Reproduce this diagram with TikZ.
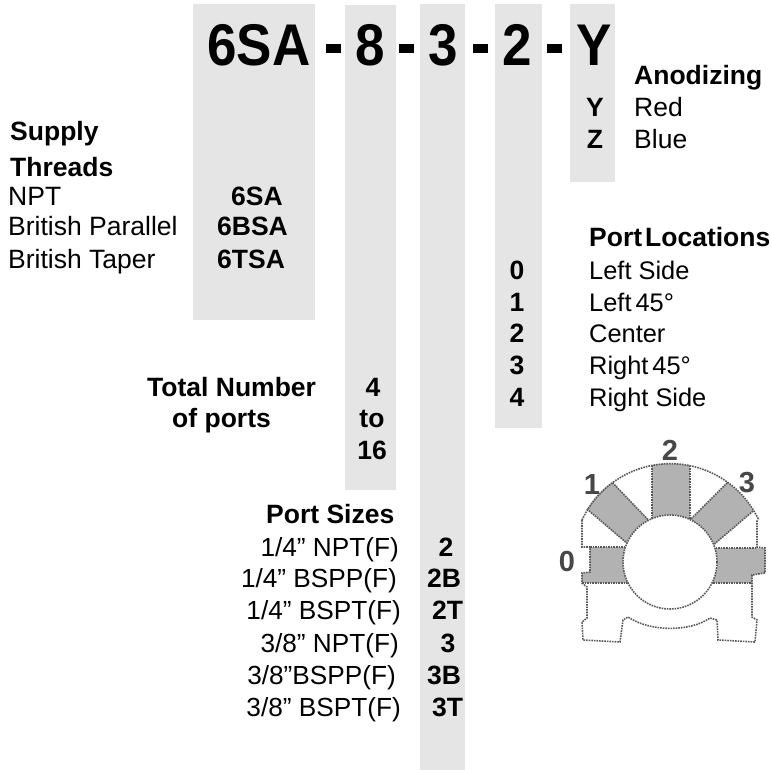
\documentclass[tikz,border=0pt]{standalone}
\usepackage{graphicx}
\usepackage{fontspec}
\setmainfont{Liberation Sans}
\usetikzlibrary{positioning}
\definecolor{barGray}{gray}{0.9}
\newcommand{\tallCode}[1]{\scalebox{1}[1.11]{#1}}
\tikzset{
    codeBar/.style={fill=barGray, draw=none},
    plainText/.style={anchor=base west, inner sep=0pt, font=\fontsize{26.5}{26.5}\selectfont},
    locText/.style={plainText, font=\fontsize{25.4}{25.4}\selectfont},
    boldText/.style={plainText, font=\fontsize{26.5}{26.5}\selectfont\bfseries},
    boldMid/.style={boldText, anchor=base},
    sizeText/.style={plainText, anchor=base east, font=\fontsize{26.2}{26.2}\selectfont},
    bigText/.style={anchor=base, inner sep=0pt, font=\fontsize{53}{53}\selectfont\bfseries},
    sketchText/.style={anchor=center, inner sep=0pt, text=black!72, font=\fontsize{29}{29}\selectfont\bfseries},
    sketchLine/.style={black!65, line width=1.6pt, densely dotted},
    blockFill/.style={fill=black!30},
}
\begin{document}
\begin{tikzpicture}[x=1pt,y=-1pt]
			\useasboundingbox (0,0) rectangle (771,770);
			% gray columns
			\fill[codeBar] (193,4) rectangle (315,320);
			\fill[codeBar] (345,5) rectangle (396,490);
			\fill[codeBar] (420,4) rectangle (465,770);
			\fill[codeBar] (495,4) rectangle (542,428);
			\fill[codeBar] (570,4) rectangle (615,182);
			% model code
			\node[bigText] (codeA) at (259,66) {\tallCode{6SA}};
			\node[bigText] (codeB) at (370,66) {\tallCode{8}};
			\node[bigText] (codeC) at (443,66) {\tallCode{3}};
			\node[bigText] (codeD) at (517.5,66) {\tallCode{2}};
			\node[bigText] (codeE) at (594,66) {\tallCode{Y}};
			\fill (326,44) rectangle (341,53);
			\fill (399,44) rectangle (414,53);
			\fill (473,44) rectangle (488,53);
			\fill (547,44) rectangle (562,53);
			% anodizing
			\node[boldText] (anoTitle) at (634,85) {Anodizing};
			\node[boldMid] (anoY) at (595,117) {Y};
			\node[plainText] (anoRed) at (634,117) {Red};
			\node[boldMid] (anoZ) at (595,149) {Z};
			\node[plainText] (anoBlue) at (634,149) {Blue};
			% supply threads
			\node[boldText] (supplyTitle) at (10,141) {Supply};
			\node[boldText] (threadsTitle) at (10,177) {Threads};
			\node[plainText] (npt) at (8,206) {NPT};
			\node[plainText] (parallel) at (8,236) {British Parallel};
			\node[plainText] (taper) at (8,268) {British Taper};
			\node[boldText] (codeNpt) at (231,206) {6SA};
			\node[boldText] (codeParallel) at (217,236) {6BSA};
			\node[boldText] (codeTaper) at (217,268) {6TSA};
			% number of ports
			\node[boldText] (totalTitle) at (147,396) {Total Number};
			\node[boldText] (ofPorts) at (172,427) {of ports};
			\node[boldMid] (numFour) at (373,396) {4};
			\node[boldMid] (numTo) at (372,427) {to};
			\node[boldMid] (numSixteen) at (372,459) {16};
			% port sizes
			\node[boldText] (sizeTitle) at (266,523) {Port Sizes};
			\node[sizeText] (sizeA) at (399,556) {1/4” NPT(F)};
			\node[sizeText] (sizeB) at (397,587) {1/4” BSPP(F)};
			\node[sizeText] (sizeC) at (401,619) {1/4” BSPT(F)};
			\node[sizeText] (sizeD) at (399,652) {3/8” NPT(F)};
			\node[sizeText] (sizeE) at (396,684) {3/8”BSPP(F)};
			\node[sizeText] (sizeF) at (401,716) {3/8” BSPT(F)};
			\node[boldMid] (sizeCodeA) at (446,556) {2};
			\node[boldMid] (sizeCodeB) at (444,587) {2B};
			\node[boldMid] (sizeCodeC) at (447.5,619) {2T};
			\node[boldMid] (sizeCodeD) at (448,652) {3};
			\node[boldMid] (sizeCodeE) at (444,684) {3B};
			\node[boldMid] (sizeCodeF) at (447.5,716) {3T};
			% port locations
			\node[boldText] (locTitle) at (589,247) {Port\hspace{3pt}Locations};
			\node[boldMid] (locZero) at (517,279) {0};
			\node[locText] (locLeft) at (589,279) {Left Side};
			\node[boldMid] (locOne) at (517,311) {1};
			\node[locText] (locLeftAngle) at (589,311) {Left\hspace{4pt}45°};
			\node[boldMid] (locTwo) at (517,342) {2};
			\node[locText] (locCenter) at (589,342) {Center};
			\node[boldMid] (locThree) at (517,374) {3};
			\node[locText] (locRightAngle) at (589,374) {Right\hspace{4pt}45°};
			\node[boldMid] (locFour) at (517,406) {4};
			\node[locText] (locRight) at (589,406) {Right Side};
			% body sketch
			\begin{scope}
				\clip (669.5,561) circle (97.5);
				\fill[blockFill] (652,455) rectangle (690,530);
				\fill[blockFill] (581,504) -- (609,479) -- (655,527) -- (635,550) -- cycle;
				\fill[blockFill] (731,479) -- (759,506) -- (705,552) -- (685,525) -- cycle;
				\draw[sketchLine] (652,455) -- (652,530);
				\draw[sketchLine] (690,455) -- (690,530);
				\draw[sketchLine] (581,504) -- (635,550);
				\draw[sketchLine] (609,479) -- (655,527);
				\draw[sketchLine] (731,479) -- (685,525);
				\draw[sketchLine] (759,506) -- (705,552);
			\end{scope}
			\fill[blockFill] (590,547) -- (640,547) -- (640,583) -- (582,583) -- (582,573) -- (590,572) -- cycle;
			\fill[blockFill] (700,548) -- (765,548) -- (765,573) -- (752,575) -- (752,583) -- (700,583) -- cycle;
			\draw[sketchLine] (590,547) -- (640,547);
			\draw[sketchLine] (582,583) -- (640,583);
			\draw[sketchLine] (700,548) -- (757,548);
			\draw[sketchLine] (700,583) -- (752,583);
			\draw[sketchLine] (582,520) arc (-155:-25:97.5);
			\draw[sketchLine] (582,520) -- (582,547) -- (590,547) -- (590,572) -- (582,573) -- (582,583)
				-- (587,587) -- (587,618) -- (582,622) -- (583,640) -- (620,642) -- (623,620) -- (628,617)
				.. controls (650,632) and (690,632) .. (710,618)
				-- (717,620) -- (718,640) -- (755,642) -- (757,620) -- (752,617) -- (752,583)
				-- (752,575) -- (765,573) -- (765,548) -- (757,547) -- (757,520);
			\draw[sketchLine, fill=white] (670,562) circle (47);
			\node[sketchText] (sketchZero) at (567,562) {0};
			\node[sketchText] (sketchOne) at (592,485) {1};
			\node[sketchText] (sketchTwo) at (670,450) {2};
			\node[sketchText] (sketchThree) at (747,483) {3};
	\end{tikzpicture}
\end{document}
